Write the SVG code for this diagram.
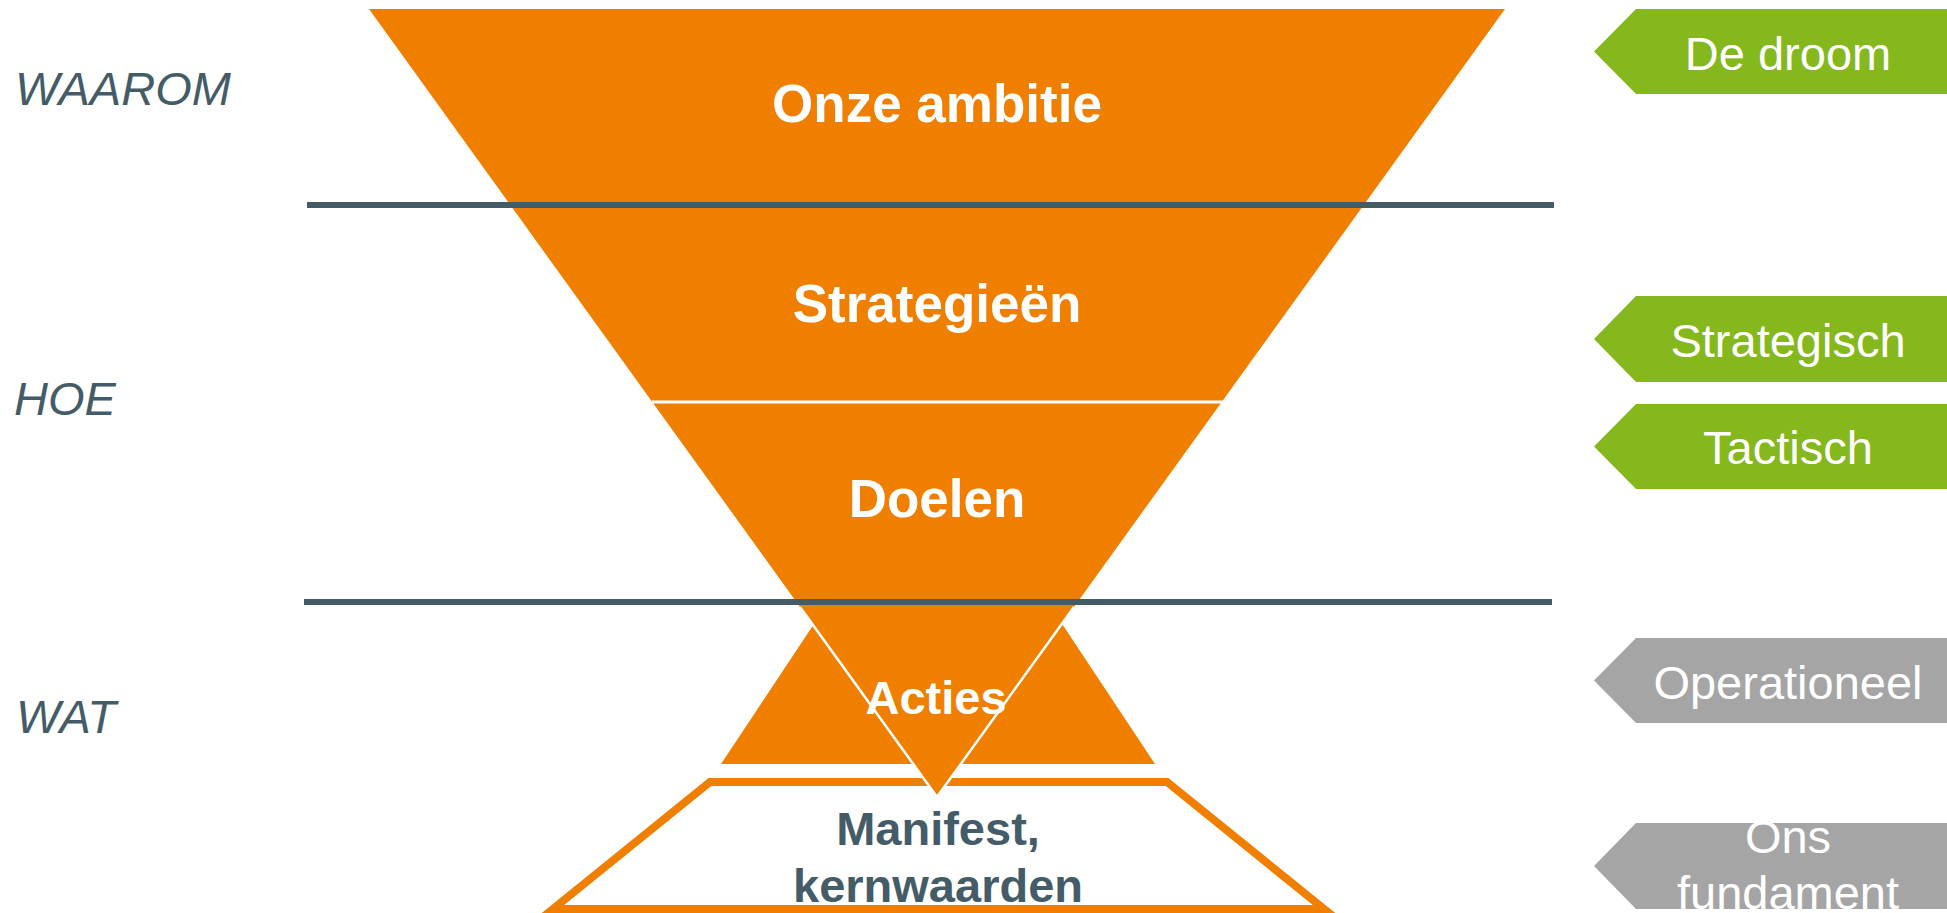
<svg xmlns="http://www.w3.org/2000/svg" width="1947" height="913" viewBox="0 0 1947 913">
  <style>
    .orange { fill: #F07F00; }
    .green { fill: #84B81C; }
    .gray { fill: #A5A5A5; }
    .divider { stroke: #435C68; stroke-width: 6; fill: none; }
    .tin { font-family: "Liberation Sans", Arial, sans-serif; font-weight: bold; font-size: 53px; fill: #FFFFFF; text-anchor: middle; }
    .tman { font-family: "Liberation Sans", Arial, sans-serif; font-weight: bold; font-size: 47px; fill: #435C68; text-anchor: middle; }
    .tside { font-family: "Liberation Sans", Arial, sans-serif; font-style: italic; font-size: 47px; fill: #435C68; }
    .ttag { font-family: "Liberation Sans", Arial, sans-serif; font-size: 47px; fill: #FFFFFF; text-anchor: middle; }
  </style>
  <defs>
    <clipPath id="clipOns">
      <polygon points="1636,823 1947,823 1947,909 1636,909 1594,866"/>
    </clipPath>
  </defs>
  <rect x="0" y="0" width="1947" height="913" fill="#FFFFFF"/>

  <g id="fundament">
    <polygon points="710,782 1167,782 1324,909 553,909" fill="#FFFFFF" stroke="#F07F00" stroke-width="8" stroke-linejoin="miter"/>
    <text class="tman" x="938" y="845">Manifest,</text>
    <text class="tman" x="938" y="902">kernwaarden</text>
  </g>

  <g id="acties-base">
    <polygon class="orange" points="938,437 1155,764 721,764"/>
  </g>

  <g id="funnel">
    <polygon class="orange" points="369,9 1505,9 937,797"/>
    <line x1="652" y1="402" x2="1223" y2="402" stroke="#FFFFFF" stroke-width="3"/>
    <polyline points="800,607 937,797 1074,607" fill="none" stroke="#FFFFFF" stroke-width="2.5" stroke-linejoin="miter"/>
  </g>

  <g id="dividers">
    <line class="divider" x1="307" y1="205" x2="1554" y2="205"/>
    <line class="divider" x1="304" y1="602" x2="1552" y2="602"/>
  </g>

  <g id="ambitie">
    <text class="tin" x="937" y="122">Onze ambitie</text>
  </g>
  <g id="strategieen">
    <text class="tin" x="937" y="322">Strategieën</text>
  </g>
  <g id="doelen">
    <text class="tin" x="937" y="517">Doelen</text>
  </g>
  <g id="acties">
    <text class="tin" x="936" y="714" style="font-size:47px">Acties</text>
  </g>

  <g id="label-waarom">
    <text class="tside" x="15" y="105">WAAROM</text>
  </g>
  <g id="label-hoe">
    <text class="tside" x="14" y="415">HOE</text>
  </g>
  <g id="label-wat">
    <text class="tside" x="16" y="733">WAT</text>
  </g>

  <g id="tag-droom">
    <polygon class="green" points="1636,9 1947,9 1947,94 1636,94 1594,51.5"/>
    <text class="ttag" x="1788" y="70">De droom</text>
  </g>
  <g id="tag-strategisch">
    <polygon class="green" points="1636,296 1947,296 1947,382 1636,382 1594,339"/>
    <text class="ttag" x="1788" y="357">Strategisch</text>
  </g>
  <g id="tag-tactisch">
    <polygon class="green" points="1636,404 1947,404 1947,489 1636,489 1594,446.5"/>
    <text class="ttag" x="1788" y="464">Tactisch</text>
  </g>
  <g id="tag-operationeel">
    <polygon class="gray" points="1636,638 1947,638 1947,723 1636,723 1594,680.5"/>
    <text class="ttag" x="1788" y="699">Operationeel</text>
  </g>
  <g id="tag-fundament">
    <polygon class="gray" points="1636,823 1947,823 1947,909 1636,909 1594,866"/>
    <g clip-path="url(#clipOns)">
      <text class="ttag" x="1788" y="853">Ons</text>
      <text class="ttag" x="1788" y="909">fundament</text>
    </g>
  </g>
</svg>
